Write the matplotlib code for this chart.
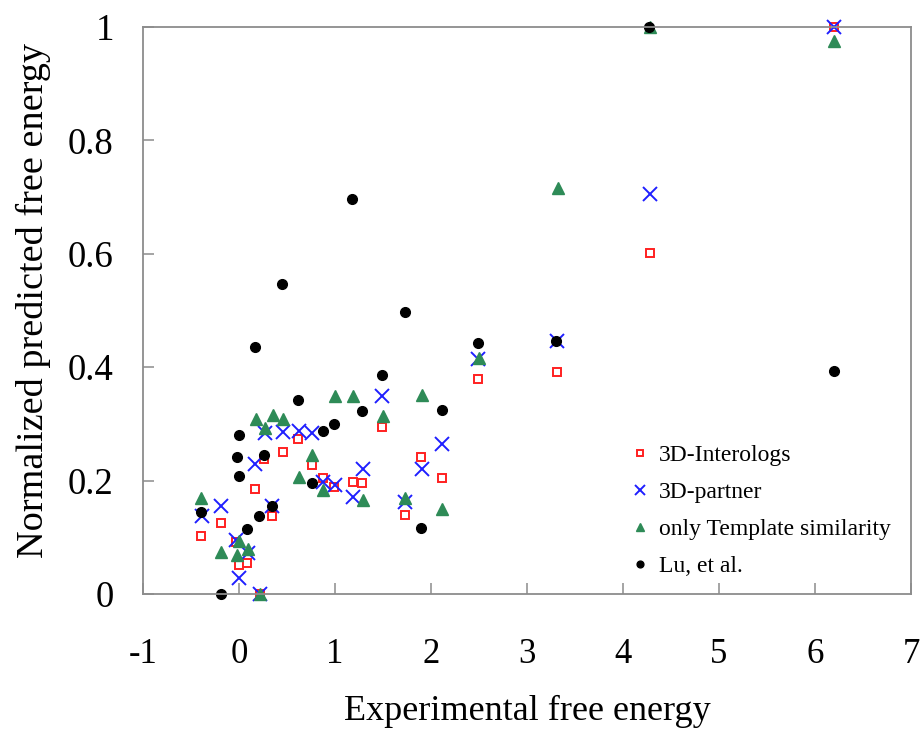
import matplotlib
matplotlib.use("Agg")
from matplotlib import pyplot as plt
from matplotlib.ticker import FuncFormatter, MultipleLocator

plt.rcParams['font.family'] = ['Liberation Serif', 'DejaVu Serif']

# 3D-Interologs
x_inter = [-0.40, -0.19, -0.03, 0.0, 0.08, 0.165, 0.22, 0.26, 0.345, 0.455, 0.615, 0.76,
           0.87, 0.99, 1.185, 1.28, 1.49, 1.725, 1.90, 2.11, 2.49, 3.31, 4.28, 6.2]
y_inter = [0.103, 0.126, 0.091, 0.051, 0.055, 0.186, 0.0, 0.238, 0.137, 0.251, 0.274, 0.227,
           0.204, 0.189, 0.197, 0.195, 0.295, 0.140, 0.241, 0.205, 0.379, 0.392, 0.602, 1.0]

# 3D-partner
x_partner = [-0.39, -0.19, -0.03, 0.0, 0.09, 0.17, 0.22, 0.27, 0.345, 0.46, 0.625, 0.76,
             0.875, 0.995, 1.185, 1.29, 1.49, 1.73, 1.91, 2.11, 2.49, 3.31, 4.28, 6.2]
y_partner = [0.138, 0.155, 0.096, 0.028, 0.073, 0.230, 0.0, 0.284, 0.155, 0.286, 0.288, 0.284,
             0.198, 0.193, 0.171, 0.221, 0.349, 0.163, 0.221, 0.265, 0.415, 0.447, 0.705, 1.0]

# only Template similarity
x_templ = [-0.395, -0.19, 0.0, -0.02, 0.09, 0.175, 0.22, 0.27, 0.35, 0.46, 0.625, 0.76,
           0.875, 0.995, 1.19, 1.29, 1.497, 1.73, 1.91, 2.115, 2.496, 3.32, 4.28, 6.2]
y_templ = [0.170, 0.074, 0.094, 0.069, 0.079, 0.309, 0.0, 0.292, 0.315, 0.309, 0.206, 0.246,
           0.184, 0.350, 0.349, 0.165, 0.314, 0.169, 0.351, 0.150, 0.417, 0.716, 1.0, 0.976]

# Lu, et al.
x_lu = [-0.40, -0.19, -0.025, 0.0, 0.0, 0.08, 0.165, 0.21, 0.26, 0.345, 0.45, 0.615, 0.76,
        0.87, 0.99, 1.18, 1.28, 1.485, 1.725, 1.90, 2.11, 2.49, 3.305, 4.27, 6.2]
y_lu = [0.145, 0.0, 0.242, 0.280, 0.209, 0.114, 0.436, 0.138, 0.245, 0.156, 0.547, 0.343, 0.196,
        0.287, 0.300, 0.697, 0.323, 0.386, 0.497, 0.116, 0.325, 0.443, 0.447, 1.0, 0.394]

fig = plt.figure(figsize=(9.21, 7.33), dpi=100)
ax = fig.add_axes([0.1553, 0.1896, 0.8338, 0.7736])

ax.plot(x_inter, y_inter, 's', ms=5.5, mfc='white', mec='#ff2020', mew=1.4,
        label='3D-Interologs', clip_on=False)
ax.plot(x_partner, y_partner, 'x', ms=10, color='#1f1fff', mew=1.4,
        label='3D-partner', clip_on=False)
ax.plot(x_templ, y_templ, '^', ms=8, color='#2e8b57', mec='#2e8b57',
        label='only Template similarity', clip_on=False)
ax.plot(x_lu, y_lu, 'o', ms=7, color='black',
        label='Lu, et al.', clip_on=False)

ax.set_xlim(-1, 7)
ax.set_ylim(0, 1)
ax.xaxis.set_major_locator(MultipleLocator(1))
ax.yaxis.set_major_locator(MultipleLocator(0.2))
ax.yaxis.set_major_formatter(FuncFormatter(lambda v, p: f'{v:g}'))
ax.xaxis.set_major_formatter(FuncFormatter(lambda v, p: f'{v:g}'))

for s in ax.spines.values():
    s.set_color('#8c8c8c')
    s.set_linewidth(1.3)
ax.tick_params(direction='in', length=8, width=1.1, color='#8c8c8c',
               top=False, right=False)
ax.tick_params(axis='x', pad=32, labelsize=25)
ax.tick_params(axis='y', pad=21, labelsize=26.5)

ax.set_xlabel('Experimental free energy', fontsize=26, labelpad=17)
ax.set_ylabel('Normalized predicted free energy', fontsize=27.5, labelpad=12, y=0.518)

ax.legend(loc='lower right', bbox_to_anchor=(0.995, 0.0), frameon=False, fontsize=17,
          handlelength=0.8, handletextpad=0.4, labelspacing=0.66, markerscale=0.7,
          borderaxespad=0.3)

fig.savefig('out.png', dpi=100)
